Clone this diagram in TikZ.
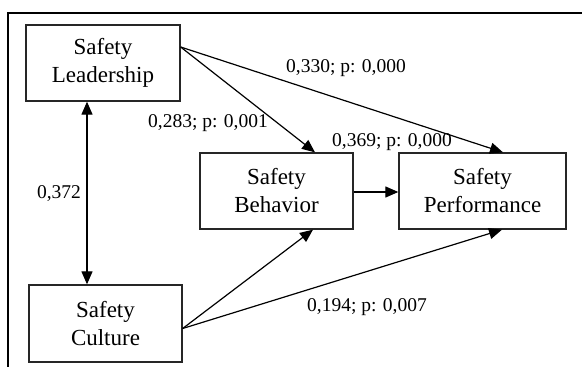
\documentclass[tikz,border=0pt]{standalone}
\usepackage{fontspec}
\setmainfont{Liberation Serif}
\usetikzlibrary{arrows.meta}
\begin{document}
\begin{tikzpicture}[x=1pt,y=-1pt,
  box/.style={draw=black!85,line width=1.3pt,rectangle,align=center,inner sep=0pt,
    font=\fontsize{23}{28}\selectfont},
  lbl/.style={inner sep=0pt,font=\fontsize{19.5}{22}\selectfont},
  arr/.style={line width=1.2pt,-{Triangle[length=13pt,width=11pt]}},
  darr/.style={line width=1.2pt,{Triangle[length=13pt,width=11pt]}-{Triangle[length=13pt,width=11pt]}}]
\useasboundingbox (0,0) rectangle (582,367);
\draw[line width=2pt] (8,367) -- (8,13) -- (582,13);
\node[box,minimum width=154pt,minimum height=76pt] (L) at (103,63) {Safety\\Leadership};
\node[box,minimum width=153pt,minimum height=77pt] (C) at (105.5,323.5) {Safety\\Culture};
\node[box,minimum width=153pt,minimum height=76pt] (B) at (276.5,191) {Safety\\Behavior};
\node[box,minimum width=167pt,minimum height=76pt] (P) at (482.5,191) {Safety\\Performance};
\coordinate (Lout) at ([yshift=16pt]L.east);
\coordinate (Cout) at ([yshift=-5pt]C.east);
\coordinate (Btop) at ([xshift=38.5pt]B.north);
\coordinate (Ptop) at ([xshift=20.5pt]P.north);
\coordinate (Bbot) at ([xshift=36.5pt]B.south);
\coordinate (Pbot) at ([xshift=19.5pt]P.south);
\coordinate (Lbot) at ([xshift=-16pt]L.south);
\draw[darr] (Lbot) -- (Lbot |- C.north);
\draw[arr] (Lout) -- (Btop);
\draw[arr] (Lout) -- (Ptop);
\draw[arr] (B.east |- 0,192) -- (P.west |- 0,192);
\draw[arr] (Cout) -- (Bbot);
\draw[arr] (Cout) -- (Pbot);
\node[lbl] (l1) at (346,68) {0,330; p: 0,000};
\node[lbl] (l2) at (208,123) {0,283; p: 0,001};
\node[lbl] (l3) at (392,142) {0,369; p: 0,000};
\node[lbl] (l4) at (59,194) {0,372};
\node[lbl] (l5) at (367,307) {0,194; p: 0,007};
\end{tikzpicture}
\end{document}
